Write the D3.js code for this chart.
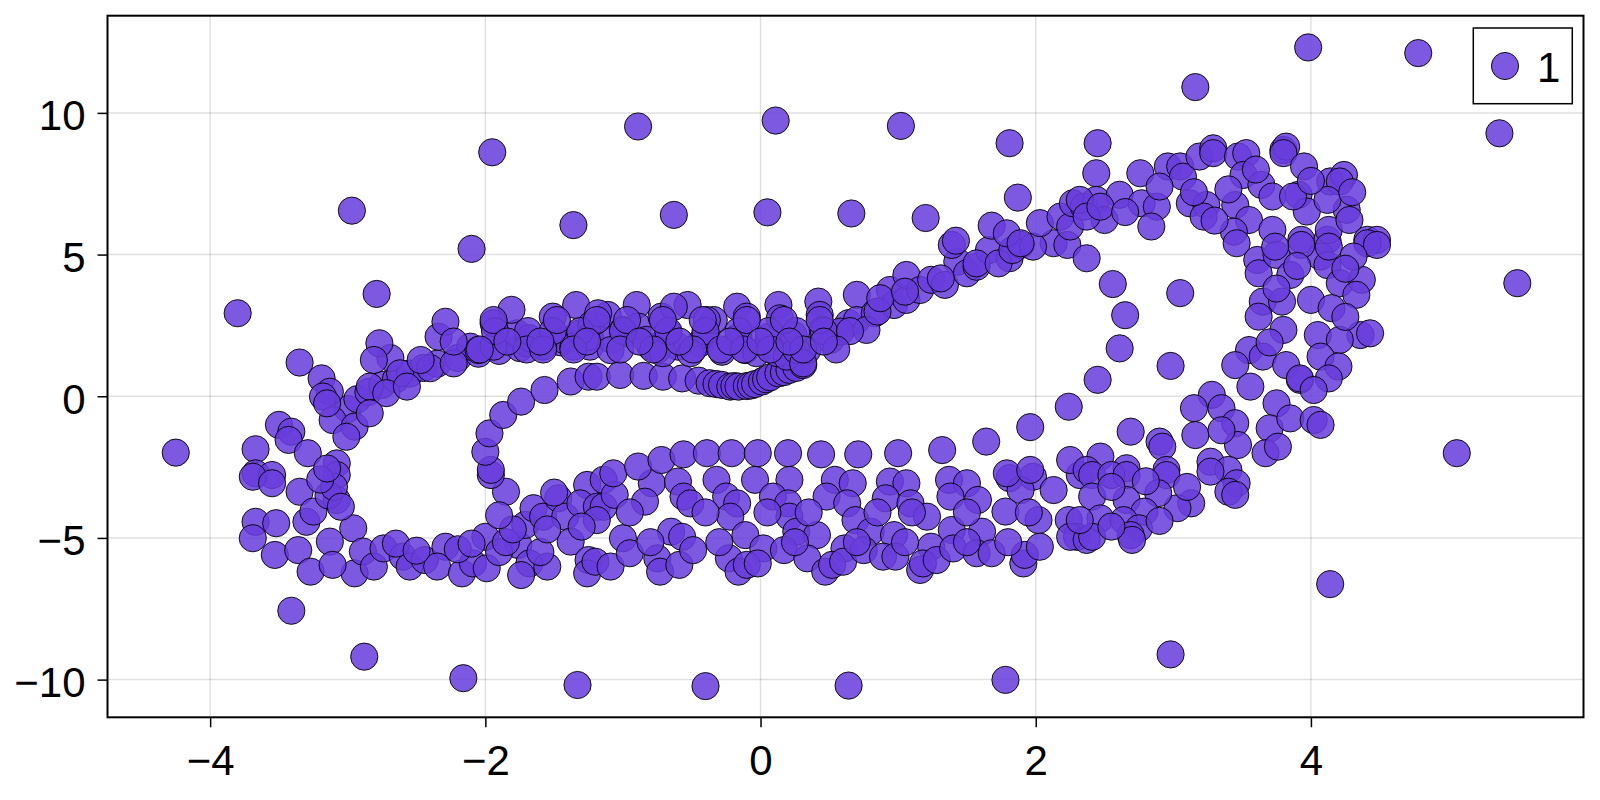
<!DOCTYPE html>
<html>
<head>
<meta charset="utf-8">
<script src="https://cdn.jsdelivr.net/npm/d3@7"></script>
<style>
body { margin: 0; background: #fff; }
</style>
</head>
<body>
<svg id="chart" width="1600" height="800"></svg>
<script>
// series label + ticks
var seriesName = '1';
var xTicks = [-4, -2, 0, 2, 4];
var yTicks = [-10, -5, 0, 5, 10];

// stray points far from the attractor
var scattered = [
  [-4.25,-1.99],[-3.8,2.93],[-3.41,-7.57],[-2.97,6.55],[-2.88,-9.19],[-2.79,3.61],[-2.1,5.2],[-1.95,8.61],
  [-2.16,-9.95],[-1.36,6.04],[-1.33,-10.19],[-0.89,9.52],[-0.4,-10.23],[-0.63,6.4],[0.11,9.73],[0.05,6.49],
  [0.66,6.45],[0.64,-10.21],[1.02,9.54],[1.2,6.29],[1.81,8.93],[1.78,-10.01],[1.87,7.01],[2.45,8.93],
  [2.98,-9.11],[3.16,10.91],[3.98,12.31],[4.78,12.11],[5.37,9.28],[5.5,3.99],[5.06,-2.01],[4.14,-6.63],
  [3.05,3.64],[2.98,1.07],[2.56,3.96],[2.65,2.86],[2.61,1.69],[2.44,7.87],[-3.35,1.19]
];

// inner curve (dip near x=0)
var innerCurve = [
  [-1.85,-3.37],[-1.96,-2.78],[-1.96,-2.6],[-2.0,-1.96],[-1.97,-1.31],[-1.87,-0.66],[-1.74,-0.19],[-1.57,0.22],
  [-1.38,0.52],[-1.25,0.69],[-1.19,0.69],[-1.02,0.75],[-0.85,0.72],[-0.71,0.69],[-0.57,0.63],[-0.45,0.55],
  [-0.37,0.46],[-0.32,0.43],[-0.28,0.4],[-0.22,0.34],[-0.19,0.36],[-0.16,0.34],[-0.1,0.36],[-0.07,0.38],
  [-0.04,0.43],[0.01,0.52],[0.04,0.6],[0.07,0.67],[0.13,0.81],[0.17,0.85],[0.21,0.93],[0.26,1.0],[0.31,1.1]
];

// upper band
var upperBand = [
  [-3.0,-0.45],[-2.93,-0.1],[-2.85,0.15],[-2.75,0.4],[-2.65,0.6],[-2.55,0.8],[-2.45,1.0],[-2.35,1.15],
  [-2.2,1.35],[-2.05,1.5],[-1.9,1.6],[-1.75,1.7],[-1.6,1.8],[-1.45,1.9],[-2.69,1.35],[-2.62,0.81],
  [-2.11,1.75],[-1.7,1.87],[-1.77,2.22],[-1.43,1.99],
  [-2.77,1.87],[-2.81,1.28],[-2.84,0.34],[-2.72,0.11],[-2.57,0.34],[-2.4,0.99],[-2.34,2.1],[-2.29,2.63],
  [-2.47,1.28],[-2.23,1.16],[-2.05,1.63],[-1.94,1.75],[-1.81,3.05],[-1.94,2.58],[-1.68,2.05],[-1.51,2.81],
  [-1.34,3.22],[-1.31,2.22],[-1.36,1.75],[-1.58,1.75],[-1.23,2.52],[-1.24,1.75],
  [-1.24,2.1],[-1.11,2.87],[-1.0,2.34],[-0.99,2.22],[-0.9,3.22],[-0.89,2.46],[-0.8,1.75],[-0.72,2.81],
  [-0.67,2.22],[-0.6,1.75],[-0.53,3.22],[-0.44,1.87],[-0.4,2.16],[-0.34,2.69],[-0.28,1.57],[-0.17,3.16],
  [-0.16,2.1],[-0.11,1.63],[-0.1,2.81],[-0.03,1.52],[0.06,2.1],[0.13,3.22],[0.14,2.75],[0.24,2.16],
  [0.34,1.63],[0.42,3.34],[0.43,2.87],[0.45,2.34],[0.51,1.99],[0.64,2.58],[0.7,3.58],[0.7,2.69],
  [0.83,2.93],[0.94,3.75],[0.97,3.22],[1.06,3.4],[1.06,4.28],[1.16,3.75],[1.24,4.11],[1.34,3.93],
  [1.43,4.75],[1.5,4.34],[1.57,4.57],[1.66,5.16],[1.81,4.87],[1.89,5.34],[2.13,5.4],[1.39,5.34],
  [-1.18,2.93],[-1.08,1.99],[-1.09,1.63],[-0.83,1.99],[-0.75,1.63],[-0.71,1.52],[-0.51,1.52],[-0.39,2.69],
  [-0.63,3.16],[0.12,1.52],[0.19,1.4],[0.26,1.63],[0.31,1.16],[0.58,2.28],[0.77,2.34],[0.85,2.99],
  [0.87,3.46],[1.05,3.69],[1.31,4.16],[1.57,4.69],[1.73,4.69],[1.83,5.16],[1.98,5.28],[2.23,5.34],
  [2.37,4.87],[1.42,5.49],[1.68,6.02],[1.79,5.75],[1.89,5.4],[2.03,6.11],[2.18,6.34],[2.25,5.99],
  [2.27,6.81],[2.35,6.69],
  // inner rows of the ribbon
  [-1.93,2.3],[-1.69,2.3],[-1.51,2.3],[-1.31,2.3],[-1.0,2.3],[-0.67,2.3],[-0.4,2.3],[-0.16,2.3],
  [0.06,2.3],[0.26,2.3],[0.46,2.3],[0.65,2.3],
  [-2.04,1.65],[-1.7,1.65],[-1.58,1.65],[-1.36,1.65],[-1.02,1.65],[-0.78,1.65],[-0.49,1.65],[-0.29,1.65],
  [-0.12,1.65],[0.07,1.65],[0.31,1.65],[0.55,1.65],
  [-1.94,2.69],[-1.48,2.69],[-1.19,2.69],[-0.97,2.69],[-0.71,2.69],[-0.42,2.69],[-0.1,2.69],[0.17,2.69],
  [0.43,2.69],
  [-2.23,1.93],[-1.84,1.93],[-1.6,1.93],[-1.26,1.93],[-0.88,1.93],[-0.59,1.93],[-0.22,1.93],[0.0,1.93],
  [0.21,1.93],[0.46,1.93]
];

// right loop
var rightLoop = [
  [2.44,6.93],[2.32,6.93],[2.5,6.22],[2.61,7.11],[2.76,7.87],[2.77,6.81],[2.88,6.69],[2.84,5.99],
  [2.96,8.11],[3.05,8.11],[3.07,7.75],[3.12,6.81],[3.24,6.75],[3.22,6.34],[3.19,8.46],[3.29,8.75],
  [3.29,8.58],[3.47,8.46],[3.53,8.58],[3.51,7.81],[3.64,7.46],[3.45,6.75],[3.55,6.22],[3.44,5.81],
  [3.72,7.05],[3.72,5.87],[3.8,8.69],[3.82,8.81],[3.8,8.58],[3.95,8.11],[3.91,7.11],[3.97,6.52],
  [3.87,7.05],[3.93,5.52],[4.12,5.52],[4.13,5.87],[4.14,7.58],[4.24,7.81],[4.21,7.58],[4.26,6.58],
  [4.28,6.22],[4.41,5.52],[4.48,5.52],[4.12,6.93],[2.37,6.34],[2.47,6.69],
  [3.46,5.4],[3.61,4.81],[3.62,4.34],[3.75,4.99],[3.85,4.28],[3.65,3.34],[3.79,3.34],[3.62,2.81],
  [4.0,3.4],[3.8,2.34],[3.55,1.63],[3.65,1.4],[3.45,1.1],[3.82,1.1],[3.92,0.58],[3.56,0.34],
  [3.28,0.05],[3.35,-0.42],[3.15,-0.42],[3.45,-0.95],[3.75,-0.25],[3.7,-1.13],[3.85,-0.78],[4.02,-0.84],
  [3.47,-1.72],[3.67,-2.01],[3.76,-1.78],[3.27,-2.31],[3.16,-1.37],[2.9,-1.6],[2.69,-1.25],[2.47,-2.13],
  [2.66,-2.54],[2.92,-1.78],[2.95,-2.6],[3.4,-2.6],[4.07,4.93],[4.12,4.63],[4.21,3.99],[4.37,4.11],
  [4.33,3.58],[4.15,3.11],[4.36,2.16],[4.43,2.22],[4.05,2.16],[4.21,1.99],[4.07,1.4],[4.2,1.05],
  [4.13,0.63],[3.92,0.63],[4.02,0.22],[4.07,-1.01],[4.41,5.4],[4.48,5.34],[4.13,5.28],[3.93,5.34],
  [3.74,5.28],[4.31,4.93],
  [3.3,6.2],[3.4,7.3],[3.6,8.0],[3.15,7.2],[2.9,7.4],[2.65,6.5],[4.0,7.6],[4.3,7.2],
  [3.9,4.6],[4.25,4.5],[3.75,3.8],[4.25,2.8],[3.7,1.9],[3.35,-1.2]
];

// lower band
var lowerBand = [
  [-2.96,-4.66],[-2.95,-6.25],[-2.89,-5.48],[-2.81,-6.01],[-2.74,-5.37],[-2.6,-5.66],[-2.55,-6.01],[-2.44,-5.78],
  [-2.29,-5.31],[-2.35,-6.01],[-2.17,-6.25],[-2.09,-5.9],[-2.0,-4.96],[-1.99,-6.07],[-1.76,-5.25],[-1.71,-4.54],
  [-1.68,-5.9],[-1.74,-6.31],[-1.55,-6.01],[-1.65,-3.95],[-1.58,-4.25],[-1.47,-3.6],[-1.42,-4.25],[-1.38,-5.13],
  [-1.26,-3.13],[-1.31,-3.78],[-1.25,-5.78],[-1.26,-6.25],[-1.19,-3.9],
  [-1.14,-2.95],[-0.79,-3.07],[-0.6,-3.01],[-0.32,-2.95],[-0.04,-2.95],[0.21,-2.95],[0.54,-2.95],[0.67,-3.07],
  [0.94,-3.01],[1.06,-3.07],[1.37,-2.95],[1.5,-3.07],[1.81,-2.89],[1.98,-2.84],[2.32,-2.78],
  [-1.14,-3.9],[-1.06,-3.48],[-0.84,-3.72],[-0.56,-3.54],[-0.51,-3.78],[-0.25,-3.54],[-0.17,-3.78],[0.09,-3.54],
  [0.2,-3.78],[0.48,-3.54],[0.63,-3.78],[0.91,-3.6],[1.09,-3.78],[1.38,-3.54],[1.58,-3.66],[1.89,-3.31],
  [2.13,-3.31],[1.78,-4.07],
  [-1.19,-4.37],[-1.0,-5.01],[-0.65,-4.78],[-0.57,-4.96],[-0.22,-4.25],[-0.11,-4.9],[0.02,-5.37],[0.21,-4.25],
  [0.26,-4.78],[0.41,-4.9],[0.61,-5.37],[0.69,-4.37],[0.8,-4.78],[0.97,-4.9],[1.21,-4.25],[1.24,-5.31],
  [1.39,-4.72],[1.61,-4.78],[2.02,-4.37],[2.24,-4.37],[2.3,-4.96],
  [-1.2,-5.84],[-1.09,-6.01],[-0.95,-5.54],[-0.75,-5.72],[-0.73,-6.19],[-0.59,-5.95],[-0.49,-5.43],[-0.23,-5.72],
  [-0.16,-6.19],[-0.1,-5.95],[-0.02,-5.9],[0.17,-5.43],[0.34,-5.72],[0.47,-6.19],[0.52,-5.95],[0.6,-5.84],
  [0.75,-5.43],[0.89,-5.66],[0.98,-5.66],[1.16,-6.13],[1.18,-5.9],[1.28,-5.78],[1.4,-5.37],[1.57,-5.54],
  [1.68,-5.54],[1.91,-5.9],[1.92,-5.6],[2.03,-5.31],[2.25,-4.96],[2.37,-5.07],
  [-1.07,-2.72],[-0.89,-2.48],[-0.72,-2.25],[-0.56,-2.05],[-0.39,-2.01],[-0.21,-2.01],[-0.02,-2.01],[0.2,-2.01],
  [0.44,-2.05],[0.71,-2.05],[1.0,-2.01],[1.32,-1.9],[1.64,-1.6],[1.96,-1.09],[2.24,-0.37],[2.45,0.58],
  [1.79,-2.72],[1.96,-2.6],[2.25,-2.25],[2.37,-2.6],
  [2.41,-2.78],[2.55,-2.78],[2.66,-2.78],[2.95,-2.78],[3.27,-2.66],[3.46,-3.07],[3.4,-3.37],[3.45,-3.48],
  [3.13,-3.78],[3.03,-3.95],[2.89,-3.42],[2.66,-3.66],[2.79,-4.07],[2.41,-3.54],[2.47,-4.31],[2.64,-4.37],
  [2.75,-4.66],[2.69,-4.9],[2.7,-5.07],[2.41,-4.96],[2.32,-4.37],
  // fill between rows
  [-0.95,-4.1],[-0.4,-4.1],[0.05,-4.1],[0.35,-4.1],[0.85,-4.1],[1.1,-4.1],[1.5,-4.1],[1.95,-4.1],
  [-0.8,-5.15],[-0.3,-5.15],[0.25,-5.15],[0.7,-5.15],[1.05,-5.15],[1.5,-5.15],[1.8,-5.15],
  [-2.65,-5.2],[-2.5,-5.45],[-2.2,-5.4],[-1.9,-5.5],[-1.85,-5.15],[-2.1,-5.2],[-1.6,-5.5],
  [-1.8,-4.7],[-1.9,-4.2],[-1.55,-4.7],[-1.3,-4.6],[-1.5,-3.4],
  [2.55,-3.2],[2.8,-3.0],[3.1,-3.2],[2.55,-4.6],[2.9,-4.4]
];

// left loop
var leftLoop = [
  [-3.19,0.63],[-3.13,0.16],[-3.18,-0.01],[-3.5,-1.01],[-3.41,-1.25],[-3.43,-1.54],[-3.67,-1.87],[-3.29,-2.01],
  [-3.11,-0.84],[-2.95,-1.07],[-2.84,-0.6],[-3.01,-1.43],[-3.08,-2.37],[-3.67,-2.72],[-3.55,-2.78],
  [-3.69,-2.84],[-3.55,-3.07],[-3.35,-3.37],[-3.08,-2.78],[-3.08,-3.66],[-3.67,-4.43],[-3.52,-4.48],[-3.3,-4.43],
  [-3.69,-5.01],[-3.53,-5.6],[-3.36,-5.43],[-3.27,-6.19],[-3.13,-5.13],[-3.11,-5.95],[-3.25,-4.07],[-3.14,-3.5],
  [-3.1,-3.2],[-3.05,-3.9],[-3.2,-2.94],[-3.15,-2.55],[-3.15,-0.25]
];

var points = [].concat(scattered, innerCurve, upperBand, rightLoop, lowerBand, leftLoop);

var plotLeft = 107.5, plotRight = 1583.5, plotTop = 15.7, plotBottom = 717.3;
var fillColor = 'rgb(104,61,220)';
var fontFam = '"Liberation Sans", Arial, sans-serif';

var svg = d3.select('#chart');

var xscale = d3.scaleLinear().domain([-4.746, 5.981]).range([plotLeft, plotRight]);
var yscale = d3.scaleLinear().domain([-11.33, 13.43]).range([plotBottom, plotTop]);

// grid
var grid = svg.append('g').attr('class', 'grid');
grid.selectAll('.gx').data(xTicks).enter().append('line')
  .attr('x1', d => xscale(d)).attr('x2', d => xscale(d))
  .attr('y1', plotTop).attr('y2', plotBottom)
  .attr('stroke', 'rgba(0,0,0,0.12)').attr('stroke-width', 1.5);
grid.selectAll('.gy').data(yTicks).enter().append('line')
  .attr('y1', d => yscale(d)).attr('y2', d => yscale(d))
  .attr('x1', plotLeft).attr('x2', plotRight)
  .attr('stroke', 'rgba(0,0,0,0.12)').attr('stroke-width', 1.5);

// points
svg.append('g').selectAll('circle')
  .data(points)
  .enter()
  .append('circle')
  .attr('cx', d => xscale(d[0]))
  .attr('cy', d => yscale(d[1]))
  .attr('r', 13.6)
  .attr('fill', fillColor)
  .attr('fill-opacity', 0.86)
  .attr('stroke', '#000')
  .attr('stroke-width', 0.9);

// frame
svg.append('rect')
  .attr('x', plotLeft).attr('y', plotTop)
  .attr('width', plotRight - plotLeft).attr('height', plotBottom - plotTop)
  .attr('fill', 'none').attr('stroke', '#000').attr('stroke-width', 2);

// axes
var xaxis = d3.axisBottom(xscale).tickValues(xTicks).tickSize(10).tickPadding(18).tickFormat(d3.format('d'));
var yaxis = d3.axisLeft(yscale).tickValues(yTicks).tickSize(10).tickPadding(12).tickFormat(d3.format('d'));

var gx = svg.append('g').attr('transform', 'translate(0,' + plotBottom + ')').call(xaxis);
var gy = svg.append('g').attr('transform', 'translate(' + plotLeft + ',0)').call(yaxis);

[gx, gy].forEach(function(g) {
  g.select('.domain').remove();
  g.selectAll('.tick line').attr('stroke', '#000').attr('stroke-width', 1.5);
  g.selectAll('.tick text').attr('fill', '#000')
    .style('font-family', fontFam).style('font-size', '42px');
});
gy.selectAll('.tick text').attr('dy', '0.4em');

// legend
var legend = svg.append('g');
legend.append('rect')
  .attr('x', 1473.3).attr('y', 28).attr('width', 99).attr('height', 75.7)
  .attr('fill', '#fff').attr('stroke', '#000').attr('stroke-width', 1.5);
legend.append('circle')
  .attr('cx', 1505).attr('cy', 66).attr('r', 13.6)
  .attr('fill', fillColor).attr('fill-opacity', 0.86)
  .attr('stroke', '#000').attr('stroke-width', 0.9);
legend.append('text')
  .attr('x', 1537).attr('y', 81.5)
  .style('font-family', fontFam).style('font-size', '42px')
  .attr('fill', '#000')
  .text(seriesName);
</script>
</body>
</html>
